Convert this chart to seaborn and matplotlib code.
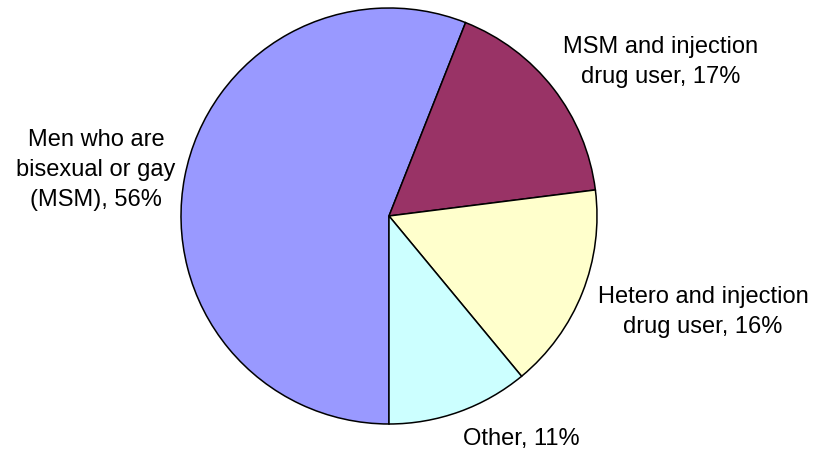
import matplotlib
matplotlib.use("Agg")
import matplotlib.pyplot as plt
import seaborn as sns

categories = ["Men who are\nbisexual or gay\n(MSM)", "MSM and injection\ndrug user",
              "Hetero and injection\ndrug user", "Other"]
values = [56, 17, 16, 11]
colors = ["#9999FF", "#993366", "#FFFFCC", "#CCFFFF"]

sns.set_theme(style="white")
plt.rcParams["font.family"] = ["Liberation Sans", "DejaVu Sans"]

W, H = 817, 456
CX, CY, R = 389, 217, 208
fig = plt.figure(figsize=(W / 100, H / 100), dpi=100)
ax = fig.add_axes([0, 0, 1, 1])
ax.pie(values, colors=colors, startangle=-90, counterclock=False,
       wedgeprops=dict(edgecolor="black", linewidth=1.1))
ax.set_xlim(-CX / R, (W - CX) / R)
ax.set_ylim(-(H - CY) / R, CY / R)
ax.set_axis_off()

# label positions in pixels (centre of text block)
label_pos = [(96, 170), (661, 62), (703, 312), (521, 439)]
for cat, v, (px, py) in zip(categories, values, label_pos):
    ax.text((px - CX) / R, (CY - py) / R, f"{cat}, {v}%", ha="center", va="center",
            fontsize=17, linespacing=1.45, color="black")

fig.savefig("out.png", dpi=100)
